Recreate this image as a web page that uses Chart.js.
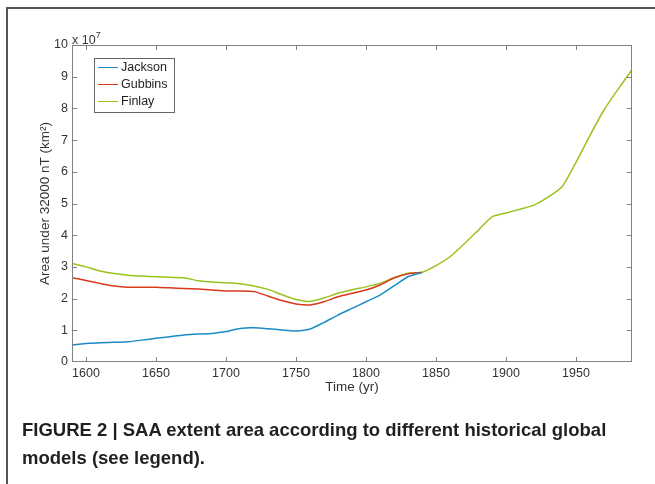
<!DOCTYPE html>
<html>
<head>
<meta charset="utf-8">
<script src="https://cdn.jsdelivr.net/npm/chart.js@4.4.1/dist/chart.umd.min.js"></script>
<style>
  body { margin: 0; background: #fff; }
  #wrap { position: relative; width: 655px; height: 484px; overflow: hidden; font-family: "Liberation Sans", Arial, sans-serif; }
  #frameTop { position: absolute; left: 7px; top: 7px; width: 648px; height: 0; border-top: 2px solid #555; }
  #frameLeft { position: absolute; left: 6px; top: 7px; width: 0; height: 477px; border-left: 2px solid #555; }
  #exp { position: absolute; left: 72px; top: 31px; font-size: 12.5px; color: #333; }
  #exp sup { font-size: 9px; position: relative; top: -1px; }
  #legend { position: absolute; left: 94px; top: 58px; width: 79px; height: 53px; border: 1px solid #666; background: #fff; font-size: 12.5px; color: #222; }
  #legend div { height: 17px; line-height: 17px; display: flex; align-items: center; }
  #legend span.sw { display: inline-block; width: 20px; height: 0; border-top: 1.5px solid; margin: 0 3px 0 3px; }
  #caption { position: absolute; left: 22px; top: 416px; width: 600px; font-size: 18.5px; font-weight: bold; line-height: 28px; color: #231f20; }
</style>
</head>
<body>
<div id="wrap">
  <canvas id="chart" width="655" height="484"></canvas>
  <div id="frameTop"></div>
  <div id="frameLeft"></div>
  <div id="exp">x 10<sup>7</sup></div>
  <div id="legend"></div>
  <div id="caption">FIGURE 2 | SAA extent area according to different historical global models (see legend).</div>
</div>
<script>
// values in units of 10^7 km^2
const seriesNames = ["Jackson", "Gubbins", "Finlay"];
const seriesColors = ["#1b8bc7", "#d9391b", "#99c31c"];

const jacksonYears = [1590, 1600, 1610, 1620, 1630, 1640, 1650, 1660, 1670, 1680, 1690, 1700, 1710,
  1720, 1730, 1740, 1750, 1760, 1770, 1780, 1790, 1800, 1810, 1820, 1830, 1840];
const jacksonArea = [0.54, 0.58, 0.61, 0.62, 0.64, 0.69, 0.75, 0.80, 0.85, 0.88, 0.90, 0.96, 1.06,
  1.08, 1.05, 1.01, 0.98, 1.04, 1.25, 1.48, 1.69, 1.90, 2.11, 2.40, 2.69, 2.82];

const gubbinsYears = jacksonYears;
const gubbinsArea = [2.66, 2.57, 2.48, 2.40, 2.36, 2.36, 2.36, 2.34, 2.32, 2.30, 2.27, 2.24, 2.24,
  2.22, 2.08, 1.94, 1.83, 1.80, 1.90, 2.06, 2.17, 2.27, 2.43, 2.65, 2.78, 2.82];

const finlayYears = [1590, 1600, 1610, 1620, 1630, 1640, 1650, 1660, 1670, 1680, 1690, 1700, 1710,
  1720, 1730, 1740, 1750, 1760, 1770, 1780, 1790, 1800, 1810, 1820, 1830, 1840, 1850, 1860, 1870,
  1880, 1890, 1900, 1910, 1920, 1930, 1940, 1950, 1960, 1970, 1980, 1990];
const finlayArea = [3.11, 3.00, 2.87, 2.79, 2.74, 2.71, 2.69, 2.67, 2.66, 2.56, 2.52, 2.50, 2.47,
  2.40, 2.29, 2.12, 1.97, 1.91, 2.02, 2.17, 2.28, 2.37, 2.48, 2.66, 2.80, 2.83, 3.04, 3.32, 3.72,
  4.15, 4.58, 4.70, 4.82, 4.95, 5.20, 5.53, 6.30, 7.15, 7.95, 8.60, 9.22];

const xTicks = [1600, 1650, 1700, 1750, 1800, 1850, 1900, 1950];
const yTicks = [0, 1, 2, 3, 4, 5, 6, 7, 8, 9, 10];

function pts(xs, ys) {
  return xs.map((x, i) => ({ x: x, y: ys[i] }));
}

// legend
const legend = document.getElementById("legend");
seriesNames.forEach((name, i) => {
  const row = document.createElement("div");
  const sw = document.createElement("span");
  sw.className = "sw";
  sw.style.borderColor = seriesColors[i];
  row.appendChild(sw);
  row.appendChild(document.createTextNode(name));
  legend.appendChild(row);
});

// box round the plot with inward ticks, like matlab
const boxTicks = {
  id: "boxTicks",
  afterDraw(chart) {
    const { ctx, chartArea: a, scales } = chart;
    ctx.save();
    ctx.strokeStyle = "#808080";
    ctx.lineWidth = 1;
    ctx.strokeRect(a.left + 0.5, a.top + 0.5, a.right - a.left - 1, a.bottom - a.top - 1);
    ctx.beginPath();
    xTicks.forEach(v => {
      const px = Math.round(scales.x.getPixelForValue(v)) + 0.5;
      ctx.moveTo(px, a.bottom); ctx.lineTo(px, a.bottom - 5);
      ctx.moveTo(px, a.top); ctx.lineTo(px, a.top + 5);
    });
    yTicks.forEach(v => {
      const py = Math.min(Math.round(scales.y.getPixelForValue(v)), a.bottom - 1) + 0.5;
      ctx.moveTo(a.left, py); ctx.lineTo(a.left + 5, py);
      ctx.moveTo(a.right, py); ctx.lineTo(a.right - 5, py);
    });
    ctx.stroke();
    ctx.restore();
  }
};

const datasets = [pts(jacksonYears, jacksonArea), pts(gubbinsYears, gubbinsArea), pts(finlayYears, finlayArea)]
  .map((d, i) => ({
    label: seriesNames[i],
    data: d,
    borderColor: seriesColors[i],
    borderWidth: 1.5,
    pointRadius: 0,
    tension: 0.2,
    fill: false
  }));

const tickFont = { family: "'Liberation Sans', Arial, sans-serif", size: 12.5 };
const titleFont = { family: "'Liberation Sans', Arial, sans-serif", size: 13.5 };

new Chart(document.getElementById("chart"), {
  type: "line",
  data: { datasets: datasets },
  options: {
    responsive: false,
    animation: false,
    layout: { padding: { left: 0, top: 45, right: 23, bottom: 80 } },
    plugins: { legend: { display: false }, tooltip: { enabled: false } },
    scales: {
      x: {
        type: "linear",
        min: 1590,
        max: 1990,
        grid: { display: false, drawTicks: false },
        border: { display: false },
        afterBuildTicks: s => { s.ticks = xTicks.map(v => ({ value: v })); },
        afterFit: s => { s.height = 42; },
        ticks: { font: tickFont, color: "#333", padding: 4, maxRotation: 0, callback: v => String(v) },
        title: { display: true, text: "Time (yr)", font: titleFont, color: "#333", padding: { bottom: 9 } }
      },
      y: {
        min: 0,
        max: 10,
        grid: { display: false, drawTicks: false },
        border: { display: false },
        afterBuildTicks: s => { s.ticks = yTicks.map(v => ({ value: v })); },
        afterFit: s => { s.width = 72; },
        ticks: { font: tickFont, color: "#333", padding: 4 },
        title: { display: true, text: "Area under 32000 nT (km\u00b2)", font: titleFont, color: "#333", padding: { top: 37 } }
      }
    }
  },
  plugins: [boxTicks]
});
</script>
</body>
</html>
